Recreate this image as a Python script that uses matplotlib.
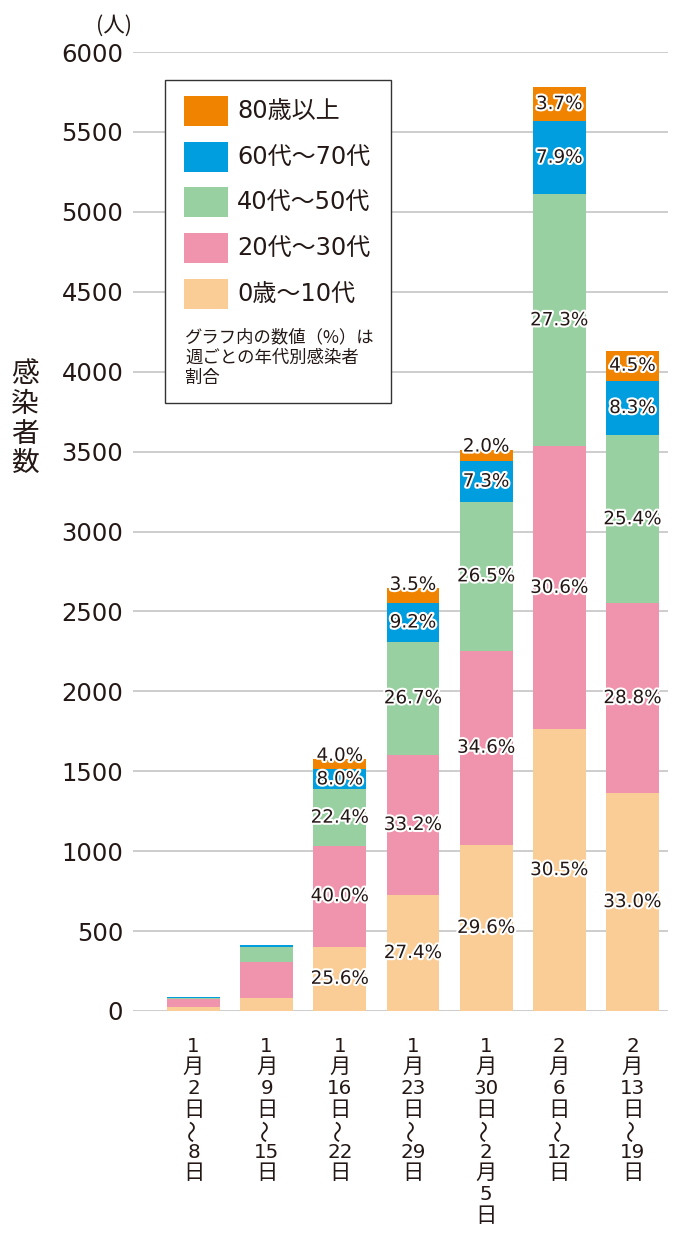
import matplotlib
matplotlib.use("Agg")
import matplotlib.pyplot as plt
from matplotlib.patches import Rectangle
import matplotlib.patheffects as pe
import matplotlib.transforms as mtransforms
import numpy as np

plt.rcParams['font.family'] = ['DejaVu Sans', 'Noto Sans CJK JP']
CJK = ['Noto Sans CJK JP', 'DejaVu Sans']

weeks = ["1\n月\n2\n日\n〜\n8\n日",
         "1\n月\n9\n日\n〜\n15\n日",
         "1\n月\n16\n日\n〜\n22\n日",
         "1\n月\n23\n日\n〜\n29\n日",
         "1\n月\n30\n日\n〜\n2\n月\n5\n日",
         "2\n月\n6\n日\n〜\n12\n日",
         "2\n月\n13\n日\n〜\n19\n日"]

series_names = ["0歳〜10代", "20代〜30代", "40代〜50代", "60代〜70代", "80歳以上"]
colors = ["#FACD96", "#F093AC", "#99D0A1", "#009EDF", "#F08300"]

age_0_10 = [22, 81, 403, 725, 1040, 1763, 1363]
age_20_30 = [52, 225, 630, 878, 1214, 1769, 1189]
age_40_50 = [6, 94, 353, 706, 930, 1578, 1049]
age_60_70 = [6, 12, 126, 243, 256, 457, 343]
age_80 = [2, 2, 63, 93, 70, 214, 186]

pct_0_10 = [None, None, "25.6%", "27.4%", "29.6%", "30.5%", "33.0%"]
pct_20_30 = [None, None, "40.0%", "33.2%", "34.6%", "30.6%", "28.8%"]
pct_40_50 = [None, None, "22.4%", "26.7%", "26.5%", "27.3%", "25.4%"]
pct_60_70 = [None, None, "8.0%", "9.2%", "7.3%", "7.9%", "8.3%"]
pct_80 = [None, None, "4.0%", "3.5%", "2.0%", "3.7%", "4.5%"]

yticks = [0, 500, 1000, 1500, 2000, 2500, 3000, 3500, 4000, 4500, 5000, 5500, 6000]

y_title = "感染者数"
unit_label = "(人)"
note_lines = ["グラフ内の数値（%）は", "週ごとの年代別感染者", "割合"]

data = [age_0_10, age_20_30, age_40_50, age_60_70, age_80]
pcts = [pct_0_10, pct_20_30, pct_40_50, pct_60_70, pct_80]

W, H = 682, 1259
fig = plt.figure(figsize=(W / 100, H / 100), dpi=100)
TXT = "#231815"

def fx(x):
    return x / W

def fy(y):
    return 1 - y / H

ax = fig.add_axes([fx(133), fy(1011), fx(668) - fx(133), fy(52) - fy(1011)])
x = np.arange(len(weeks))
bw = 0.724
bottom = np.zeros(len(weeks))
halo = [pe.withStroke(linewidth=3, foreground='white')]
for vals, col, labels, i in zip(data, colors, pcts, range(5)):
    v = np.array(vals, dtype=float)
    ax.bar(x, v, bw, bottom=bottom, color=col, zorder=3, linewidth=0)
    for j in range(len(weeks)):
        if labels[j] is None:
            continue
        if i == 4 and v[j] < 130:
            ax.text(x[j], bottom[j] + v[j] - 10, labels[j], ha='center', va='baseline',
                    fontsize=13.2, color=TXT, zorder=5, path_effects=halo)
        else:
            ax.text(x[j], bottom[j] + v[j] / 2, labels[j], ha='center', va='center',
                    fontsize=13.2, color=TXT, zorder=5, path_effects=halo)
    bottom += v

ax.set_ylim(0, 6000)
ax.set_xlim(-0.827, 6 + 0.485)
ax.set_yticks(yticks)
ax.set_yticklabels([str(t) for t in yticks], fontsize=17.5, color=TXT)
ax.grid(axis='y', color='#c9c9c9', linewidth=1.3, zorder=0)
for s in ax.spines.values():
    s.set_visible(False)
ax.tick_params(axis='y', length=0, pad=7)
ax.set_xticks(x)
ax.set_xticklabels([])
ax.tick_params(axis='x', length=0)

# x tick labels: stacked vertical text
trans = mtransforms.blended_transform_factory(ax.transData, fig.transFigure)
for j, lab in enumerate(weeks):
    for k, line in enumerate(lab.split("\n")):
        yy = 1046 + 21.2 * k
        if line == "〜":
            ax.text(x[j], fy(yy), line, transform=trans, ha='center', va='center',
                    fontsize=16, color=TXT, rotation=90, family=CJK, clip_on=False)
        elif line.isdigit():
            ax.text(x[j], fy(yy), line, transform=trans, ha='center', va='center',
                    fontsize=14.3, color=TXT, clip_on=False)
        else:
            ax.text(x[j], fy(yy), line, transform=trans, ha='center', va='center',
                    fontsize=15.3, color=TXT, family=CJK, clip_on=False)

# unit label
fig.text(fx(114), fy(26), unit_label, ha='center', va='center', fontsize=15.5,
         color=TXT, family=CJK)
# y-axis title (vertical stacked)
for k, ch in enumerate(y_title):
    fig.text(fx(24.5), fy(374 + 29.8 * k), ch, ha='center', va='center', fontsize=20,
             color=TXT, family=CJK)

# legend box
fig.add_artist(Rectangle((fx(165), fy(403)), fx(391) - fx(165), fy(80) - fy(403),
                         transform=fig.transFigure, facecolor='white', edgecolor='#333333',
                         linewidth=1.0, zorder=10))
row_y = [111, 157, 202, 248, 294]
for k, yy in enumerate(row_y):
    idx = 4 - k
    fig.add_artist(Rectangle((fx(184), fy(yy + 15)), fx(228) - fx(184), fy(yy - 15) - fy(yy + 15),
                             transform=fig.transFigure, facecolor=colors[idx], edgecolor='none',
                             zorder=11))
    fig.text(fx(237), fy(yy), series_names[idx], ha='left', va='center', fontsize=17.3,
             color=TXT, zorder=12)
for k, line in enumerate(note_lines):
    fig.text(fx(185), fy(337 + 20.5 * k), line, ha='left', va='center', fontsize=12.5,
             color=TXT, zorder=12, family=CJK)

fig.savefig("out.png", dpi=100)
